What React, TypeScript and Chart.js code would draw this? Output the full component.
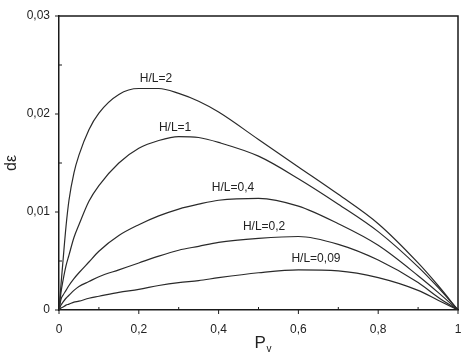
import React, { useEffect, useRef } from "react";
import { Chart, registerables } from "chart.js";

Chart.register(...registerables);

const pv = [0, 0.005, 0.01, 0.0175, 0.025, 0.0375, 0.05, 0.075, 0.1, 0.15, 0.2, 0.25, 0.3, 0.35, 0.4, 0.5, 0.6, 0.7, 0.8, 0.9, 0.95, 1];

const seriesNames = ["H/L=2", "H/L=1", "H/L=0,4", "H/L=0,2", "H/L=0,09"];

const hl2 = [0, 0.0026, 0.005, 0.0085, 0.0112, 0.014, 0.0158, 0.0184, 0.0201, 0.022, 0.0226, 0.0226, 0.0221, 0.0213, 0.0202, 0.0174, 0.0146, 0.0118, 0.0088, 0.0048, 0.0025, 0];
const hl1 = [0, 0.0018, 0.003, 0.0045, 0.0056, 0.0074, 0.0087, 0.0111, 0.0127, 0.015, 0.0165, 0.0173, 0.0177, 0.0176, 0.0171, 0.0157, 0.0134, 0.0108, 0.008, 0.0044, 0.0023, 0];
const hl04 = [0, 0.0011, 0.0015, 0.002, 0.0025, 0.0032, 0.0038, 0.0049, 0.006, 0.0076, 0.0087, 0.0096, 0.0103, 0.0108, 0.0112, 0.0114, 0.0106, 0.0088, 0.0066, 0.0035, 0.0018, 0];
const hl02 = [0, 0.0005, 0.0008, 0.0012, 0.0015, 0.002, 0.0024, 0.0029, 0.0034, 0.0041, 0.0048, 0.0055, 0.0061, 0.0065, 0.0069, 0.0073, 0.0075, 0.0067, 0.0051, 0.0028, 0.0013, 0];
const hl009 = [0, 0.0002, 0.0003, 0.0005, 0.0006, 0.0008, 0.0009, 0.0012, 0.0014, 0.0018, 0.0021, 0.0025, 0.0028, 0.003, 0.0033, 0.0038, 0.0041, 0.004, 0.0033, 0.002, 0.001, 0];

const seriesValues = [hl2, hl1, hl04, hl02, hl009];

// label anchor (data units) for each curve name
const labelX = [0.243, 0.291, 0.436, 0.514, 0.644];
const labelY = [0.0236, 0.0186, 0.01245, 0.0085, 0.0052];

const xTicks = [0, 0.2, 0.4, 0.6, 0.8, 1];
const yTicks = [0, 0.01, 0.02, 0.03];

const FONT = "'Liberation Sans', Arial, sans-serif";

const fmt = (v: number, d: number) => {
  if (Math.abs(v) < 1e-9) return "0";
  if (Math.abs(v - 1) < 1e-9) return "1";
  return v.toFixed(d).replace(".", ",");
};

const decorPlugin = {
  id: "decor",
  afterDraw(chart: any) {
    const ctx = chart.ctx;
    const { left, right, top, bottom } = chart.chartArea;
    const xs = chart.scales.x;
    const ys = chart.scales.y;
    ctx.save();
    ctx.strokeStyle = "#1a1a1a";
    ctx.lineWidth = 1.5;
    ctx.beginPath();
    ctx.moveTo(left, top);
    ctx.lineTo(right, top);
    ctx.lineTo(right, bottom);
    ctx.stroke();
    ctx.lineWidth = 1;
    for (let i = 0; i <= 10; i++) {
      const px = xs.getPixelForValue(i / 10);
      ctx.beginPath();
      ctx.moveTo(px, bottom);
      ctx.lineTo(px, i % 2 === 0 ? bottom + 4 : bottom - 3);
      ctx.stroke();
    }
    for (let i = 0; i <= 6; i++) {
      const py = ys.getPixelForValue(i * 0.005);
      ctx.beginPath();
      ctx.moveTo(left, py);
      ctx.lineTo(i % 2 === 0 ? left - 4 : left + 3, py);
      ctx.stroke();
    }
    ctx.fillStyle = "#222";
    ctx.font = `12px ${FONT}`;
    ctx.textAlign = "center";
    ctx.textBaseline = "middle";
    seriesNames.forEach((n, i) => {
      ctx.fillText(n, xs.getPixelForValue(labelX[i]), ys.getPixelForValue(labelY[i]));
    });
    const cx = (left + right) / 2 + 2;
    ctx.textAlign = "left";
    ctx.textBaseline = "alphabetic";
    ctx.font = `17px ${FONT}`;
    ctx.fillText("P", cx - 6, bottom + 38);
    ctx.font = `10px ${FONT}`;
    ctx.fillText("v", cx + 6, bottom + 42);
    ctx.restore();
  },
};

export default function App() {
  const ref = useRef<HTMLCanvasElement | null>(null);
  useEffect(() => {
    if (!ref.current) return;
    const chart = new Chart(ref.current, {
      type: "line",
      data: {
        datasets: seriesValues.map((vals, i) => ({
          label: seriesNames[i],
          data: vals.map((y, j) => ({ x: pv[j], y })),
          borderColor: "#2a2a2a",
          borderWidth: 1.2,
          pointRadius: 0,
          fill: false,
          cubicInterpolationMode: "monotone" as const,
        })),
      },
      options: {
        animation: false,
        responsive: false,
        layout: { padding: { left: 0, right: 3, top: 16, bottom: 0 } },
        plugins: { legend: { display: false }, tooltip: { enabled: false } },
        scales: {
          x: {
            type: "linear",
            min: 0,
            max: 1,
            afterBuildTicks: (s: any) => {
              s.ticks = xTicks.map((v) => ({ value: v }));
            },
            afterFit: (s: any) => {
              s.height = 46;
              s.paddingLeft = 0;
              s.paddingRight = 0;
            },
            grid: { display: false, drawTicks: false },
            border: { display: true, color: "#1a1a1a", width: 1.5 },
            ticks: {
              padding: 12,
              color: "#222",
              font: { family: FONT, size: 12 },
              maxRotation: 0,
              autoSkip: false,
              callback: (v: any) => fmt(Number(v), 1),
            },
          },
          y: {
            type: "linear",
            min: 0,
            max: 0.03,
            afterBuildTicks: (s: any) => {
              s.ticks = yTicks.map((v) => ({ value: v }));
            },
            afterFit: (s: any) => {
              s.width = 59;
              s.paddingTop = 0;
              s.paddingBottom = 0;
            },
            grid: { display: false, drawTicks: false },
            border: { display: true, color: "#1a1a1a", width: 1.5 },
            title: {
              display: true,
              text: "dε",
              color: "#222",
              font: { family: FONT, size: 16 },
              padding: { top: 2, bottom: 0 },
            },
            ticks: {
              padding: 9,
              color: "#222",
              font: { family: FONT, size: 12 },
              autoSkip: false,
              callback: (v: any) => fmt(Number(v), 2),
            },
          },
        },
      },
      plugins: [decorPlugin],
    });
    return () => chart.destroy();
  }, []);
  return (
    <div style={{ position: "fixed", left: 0, top: 0, width: 461, height: 356, background: "#fff" }}>
      <canvas ref={ref} width={461} height={356} style={{ display: "block" }} />
    </div>
  );
}
